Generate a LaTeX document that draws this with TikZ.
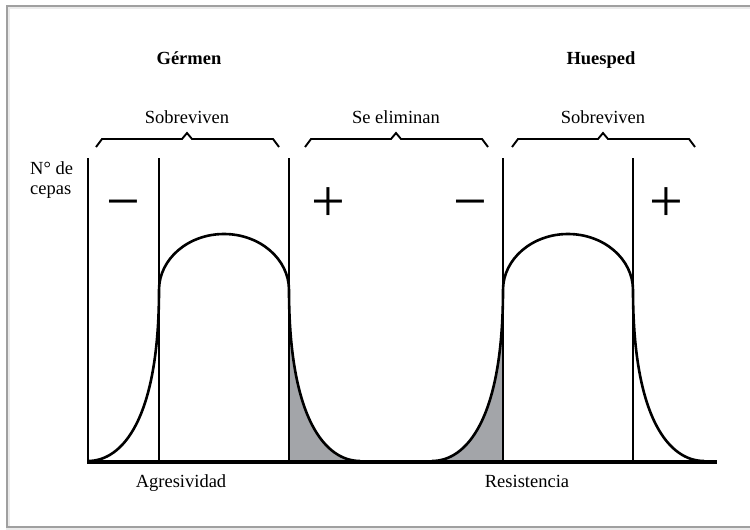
\documentclass[tikz,border=0pt]{standalone}
\usepackage{fontspec}
\setmainfont{Liberation Serif}
\definecolor{tailgray}{RGB}{163,165,169}
\definecolor{framegray}{RGB}{160,160,160}

\begin{document}
\begin{tikzpicture}[x=1pt,y=-1pt,
  txt/.style={font=\fontsize{18.5}{20}\selectfont,inner sep=0pt,anchor=base},
  sgn/.style={font=\fontsize{60}{60}\selectfont,inner sep=0pt,anchor=base},
  bell/.style={line width=2.6pt,line join=round},
  cut/.style={line width=1.2pt},
  brc/.style={line width=1.9pt,line join=miter}]
\useasboundingbox (0,0) rectangle (750,530);
\draw[black!8,line width=4pt] (8,7) rectangle (762,529);
\draw[framegray,line width=1.5pt] (7,6) rectangle (760,527);
\node[txt,font=\fontsize{18.5}{20}\selectfont\bfseries] (germen) at (189,64) {Gérmen};
\node[txt,font=\fontsize{18.5}{20}\selectfont\bfseries] (huesped) at (601,64) {Huesped};
\foreach \m/\t [count=\i] in %
{187/Sobreviven,396/Se eliminan,603/Sobreviven} {
   \draw[brc] (\m-91,147) -- (\m-85,139) -- (\m-5,139) -- (\m,133)
      -- (\m+5,139) -- (\m+86,139) -- (\m+92,147);
   \node[txt] (rango\i) at (\m,123) {\t};
}
\node[txt,align=left,anchor=north west] (ncepas) at (30,161) {N° de\\cepas};
\fill[tailgray] (289,290) .. controls (289,420) and (326,461) .. (360,461) -- (289,461) -- cycle;
\fill[tailgray] (432,461) .. controls (466,461) and (503,420) .. (503,290) -- (503,461) -- cycle;
\foreach \a in {88,432} {
   \draw[bell] (\a,461) .. controls (\a+34,461) and (\a+71,420) .. (\a+71,290)
      arc[start angle=180,end angle=360,x radius=65,y radius=56]
      .. controls (\a+201,420) and (\a+238,461) .. (\a+272,461);
}
\foreach \x in {159,289,503,633} {
   \draw[cut] (\x,158) -- (\x,461);
}
\draw[line width=1.5pt] (88,158) -- (88,462);
\draw[line width=4.5pt] (87,462) -- (717,462);
\foreach \x/\s [count=\i] in %
{123/−,328/+,470/−,666/+} {
   \node[sgn] (signo\i) at (\x,221) {\s};
}
\node[txt] (agres) at (181,487) {Agresividad};
\node[txt] (resist) at (527,487) {Resistencia};
\end{tikzpicture}
\end{document}
